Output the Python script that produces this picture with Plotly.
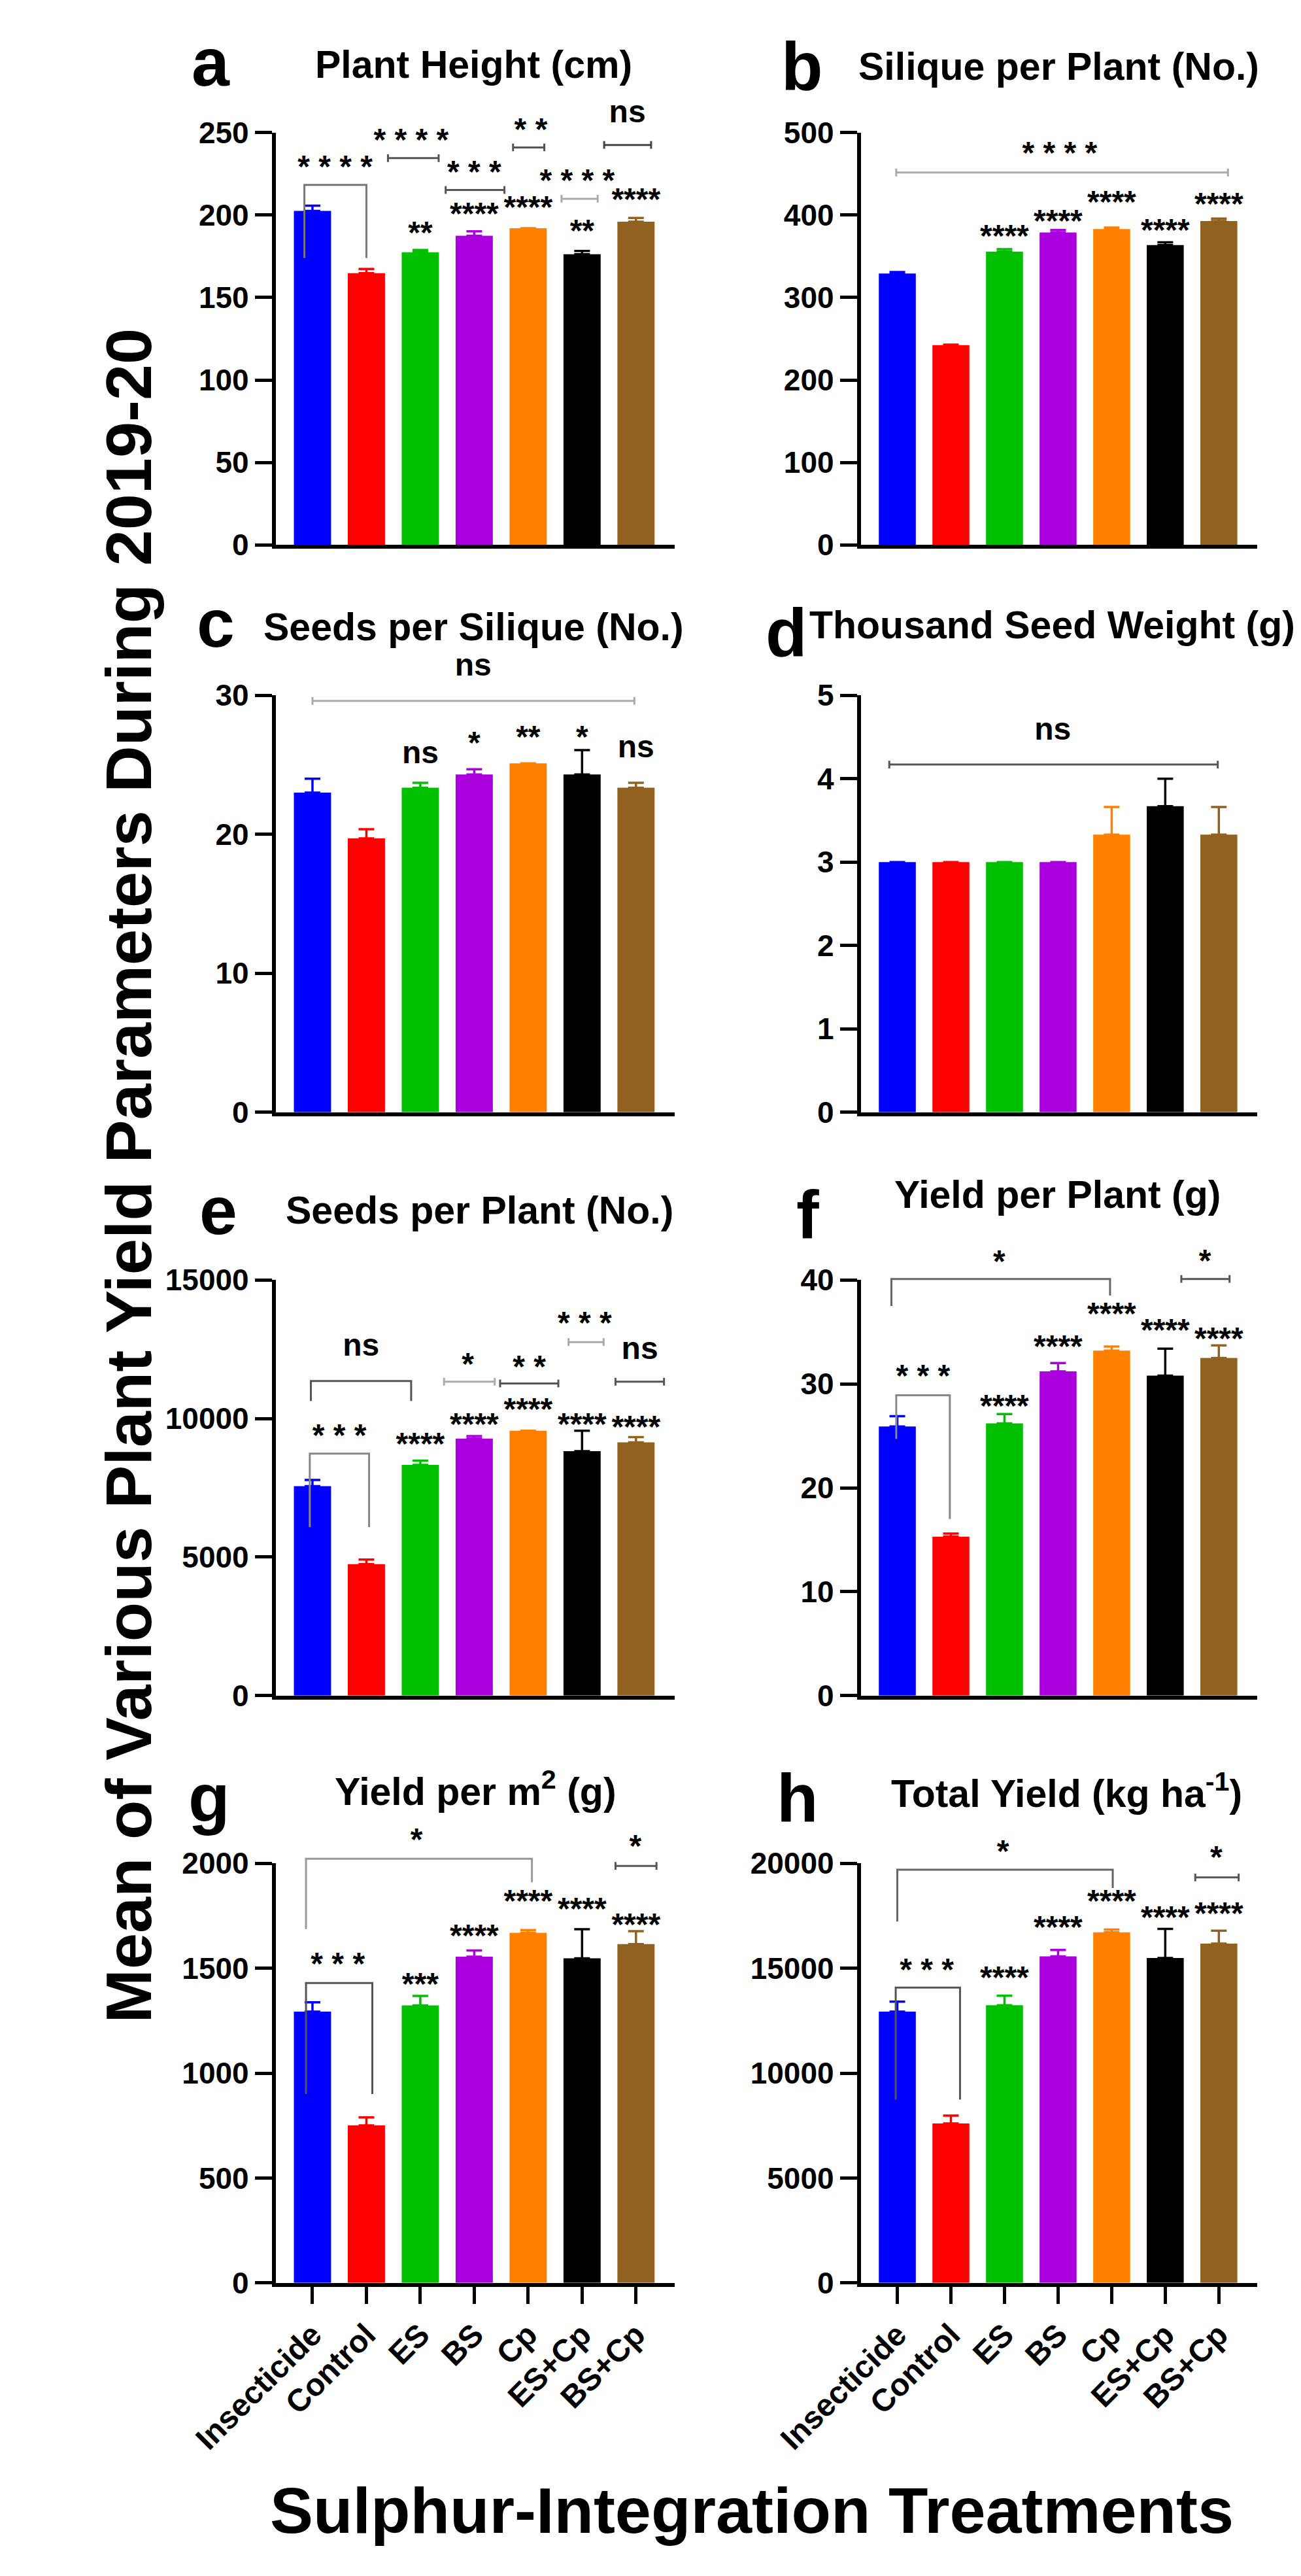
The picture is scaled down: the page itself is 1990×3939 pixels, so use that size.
import plotly.graph_objects as go

W, H = 1990, 3939
FONT = "Liberation Sans, Arial, sans-serif"

treatments = ["Insecticide", "Control", "ES", "BS", "Cp", "ES+Cp", "BS+Cp"]
bar_colors = ["#0000ff", "#ff0000", "#00c000", "#aa00dd", "#ff8000", "#000000", "#916120"]

# (a) plant height
height_mean = [202.5, 164.8, 177.4, 187.5, 192.0, 176.3, 196.0]
height_se = [3.2, 2.5, 1.4, 2.6, 0.0, 1.9, 2.3]
height_stars = ["", "", "**", "****", "****", "**", "****"]
height_star_y = [None, None, 192.0, 203.6, 207.4, 193.1, 212.0]
# bracket = (from, to, level, left leg end, right leg end, label, label x, label y, line colour)
height_brackets = [
    (-0.15, 1.0, 218.3, 174, 174, "* * * *", 0.42, 232.0, "#777777"),
    (1.40, 2.34, 234.5, None, None, "* * * *", 1.83, 248.4, "#555555"),
    (2.47, 3.56, 215.2, None, None, "* * *", 3.0, 228.8, "#555555"),
    (3.72, 4.30, 241.0, None, None, "* *", 4.05, 254.7, "#555555"),
    (4.62, 5.29, 209.9, None, None, "* * * *", 4.91, 223.6, "#aaaaaa"),
    (5.41, 6.28, 242.5, None, None, "ns", 5.84, 259.3, "#444444"),
]

# (b) silique per plant
silique_mean = [329.2, 242.3, 355.6, 378.9, 383.1, 363.6, 392.8]
silique_se = [1.7, 0.5, 3.0, 3.0, 1.7, 3.4, 3.0]
silique_stars = ["", "", "****", "****", "****", "****", "****"]
silique_star_y = [None, None, 379.7, 397.9, 421.0, 387.3, 419.0]
silique_brackets = [
    (-0.02, 6.17, 451.6, None, None, "* * * *", 3.03, 481.0, "#aaaaaa"),
]

# (c) seeds per silique
seeds_sil_mean = [23.0, 19.7, 23.35, 24.3, 25.1, 24.3, 23.35]
seeds_sil_se = [1.0, 0.66, 0.35, 0.38, 0.0, 1.76, 0.35]
seeds_sil_stars = ["", "", "ns", "*", "**", "*", "ns"]
seeds_sil_star_y = [None, None, 25.5, 26.9, 27.3, 27.3, 25.9]
seeds_sil_brackets = [
    (0.0, 5.97, 29.6, None, None, "ns", 2.98, 31.8, "#aaaaaa"),
]

# (d) thousand seed weight
tsw_mean = [3.0, 3.0, 3.0, 3.0, 3.33, 3.67, 3.33]
tsw_se = [0.0, 0.0, 0.0, 0.0, 0.33, 0.33, 0.33]
tsw_stars = ["", "", "", "", "", "", ""]
tsw_star_y = [None] * 7
tsw_brackets = [
    (-0.15, 5.98, 4.17, None, None, "ns", 2.9, 4.53, "#555555"),
]

# (e) seeds per plant
seeds_pl_mean = [7557, 4747, 8329, 9278, 9557, 8823, 9139]
seeds_pl_se = [228, 164, 152, 89, 0, 734, 190]
seeds_pl_stars = ["", "", "****", "****", "****", "****", "****"]
seeds_pl_star_y = [None, None, 9241, 9962, 10506, 9962, 9848]
seeds_pl_brackets = [
    (-0.05, 1.05, 8734, 6076, 6076, "* * *", 0.5, 9557, "#888888"),
    (-0.03, 1.83, 11354, 10633, 10633, "ns", 0.9, 12468, "#555555"),
    (2.44, 3.38, 11329, None, None, "*", 2.88, 12115, "#aaaaaa"),
    (3.48, 4.56, 11266, None, None, "* *", 4.02, 12025, "#555555"),
    (4.75, 5.40, 12760, None, None, "* * *", 5.05, 13608, "#aaaaaa"),
    (5.62, 6.52, 11329, None, None, "ns", 6.07, 12342, "#555555"),
]

# (f) yield per plant
ypp_mean = [25.9, 15.3, 26.2, 31.2, 33.2, 30.8, 32.5]
ypp_se = [1.0, 0.3, 0.9, 0.8, 0.4, 2.6, 1.2]
ypp_stars = ["", "", "****", "****", "****", "****", "****"]
ypp_star_y = [None, None, 28.3, 34.0, 37.2, 35.6, 34.8]
ypp_brackets = [
    (-0.02, 0.98, 28.9, 24.7, 17.0, "* * *", 0.48, 31.2, "#888888"),
    (-0.11, 3.97, 40.1, 37.5, 38.5, "*", 1.9, 42.2, "#666666"),
    (5.3, 6.2, 40.1, None, None, "*", 5.74, 42.3, "#555555"),
]

# (g) yield per m2
ym2_mean = [1293, 751, 1323, 1555, 1669, 1547, 1615]
ym2_se = [45, 38, 45, 30, 13, 139, 62]
ym2_stars = ["", "", "***", "****", "****", "****", "****"]
ym2_star_y = [None, None, 1444, 1676, 1843, 1804, 1729]
ym2_brackets = [
    (-0.12, 1.11, 1430, 900, 900, "* * *", 0.47, 1543, "#555555"),
    (-0.12, 4.07, 2022, 1687, 1910, "*", 1.93, 2134, "#999999"),
    (5.62, 6.38, 1988, None, None, "*", 5.99, 2105, "#555555"),
]

# (h) total yield
total_mean = [12936, 7601, 13238, 15571, 16711, 15487, 16175]
total_se = [470, 370, 453, 302, 135, 1392, 620]
total_stars = ["", "", "****", "****", "****", "****", "****"]
total_star_y = [None, None, 14782, 17165, 18406, 17651, 17819]
total_brackets = [
    (-0.03, 1.17, 14078, 8741, 8741, "* * *", 0.55, 15151, "#555555"),
    (0.0, 4.02, 19698, 17231, 18825, "*", 1.97, 20789, "#666666"),
    (5.56, 6.37, 19329, None, None, "*", 5.95, 20503, "#555555"),
]

panels = [
    ("a", "Plant Height (cm)", height_mean, height_se, height_stars, height_star_y, height_brackets, [0, 50, 100, 150, 200, 250]),
    ("b", "Silique per Plant (No.)", silique_mean, silique_se, silique_stars, silique_star_y, silique_brackets, [0, 100, 200, 300, 400, 500]),
    ("c", "Seeds per Silique (No.)", seeds_sil_mean, seeds_sil_se, seeds_sil_stars, seeds_sil_star_y, seeds_sil_brackets, [0, 10, 20, 30]),
    ("d", "Thousand Seed Weight (g)", tsw_mean, tsw_se, tsw_stars, tsw_star_y, tsw_brackets, [0, 1, 2, 3, 4, 5]),
    ("e", "Seeds per Plant (No.)", seeds_pl_mean, seeds_pl_se, seeds_pl_stars, seeds_pl_star_y, seeds_pl_brackets, [0, 5000, 10000, 15000]),
    ("f", "Yield per Plant (g)", ypp_mean, ypp_se, ypp_stars, ypp_star_y, ypp_brackets, [0, 10, 20, 30, 40]),
    ("g", "Yield per m<sup>2</sup> (g)", ym2_mean, ym2_se, ym2_stars, ym2_star_y, ym2_brackets, [0, 500, 1000, 1500, 2000]),
    ("h", "Total Yield (kg ha<sup>-1</sup>)", total_mean, total_se, total_stars, total_star_y, total_brackets, [0, 5000, 10000, 15000, 20000]),
]

# layout in pixels
col_px = [(301, 955), (1260, 1910)]
row_px = [(171, 810), (1043, 1689), (1949, 2593), (2853, 3503)]
letter_px = [(195, 100), (1164, 106), (203, 969), (1138, 983), (207, 1879), (1173, 1885), (192, 2789), (1156, 2789)]
title_px = [(625, 87), (1584, 90), (625, 959), (1574, 956), (635, 1863), (1582, 1838), (628, 2764), (1597, 2767)]
EXTRA = 160  # room above each panel for the significance labels
STAR_SIZE = 48


def px_x(p):
    return p / W


def px_y(p):
    return 1 - p / H


fig = go.Figure()
layout_axes = {}
annotations = []

for i, (letter, title, mean, se, stars, star_y, brackets, yticks) in enumerate(panels):
    r, c = divmod(i, 2)
    n = "" if i == 0 else str(i + 1)
    m = str(i + 9)
    xa, ya = "x" + n, "y" + n
    xs, ys = "x" + m, "y" + m
    bottom_row = r == 3
    x0p, x1p = col_px[c]
    y0p, y1p = row_px[r]
    ymax = yticks[-1]
    per_px = ymax / (y1p - y0p)

    for k in range(7):
        fig.add_trace(go.Bar(
            x=[k], y=[mean[k]], width=0.69, xaxis=xa, yaxis=ya,
            marker=dict(color=bar_colors[k], line=dict(width=0)),
            error_y=dict(type="data", symmetric=False, array=[se[k]], arrayminus=[0],
                         color=bar_colors[k], thickness=3.5, width=12),
            showlegend=False, hoverinfo="skip"))

    # brackets and labels go on an invisible twin subplot with the same scale but more headroom
    d = 6 * per_px
    lab_x, lab_y, lab_t = [], [], []

    def shift(t):
        # asterisks sit high in the line box, "ns" sits low
        return -11 * per_px if "*" in t else 4 * per_px

    for (bx0, bx1, lvl, l0, l1, lab, lx, ly, col) in brackets:
        if l0 is None:
            bx = [bx0, bx0, None, bx0, bx1, None, bx1, bx1]
            by = [lvl - d, lvl + d, None, lvl, lvl, None, lvl - d, lvl + d]
        else:
            bx = [bx0, bx0, bx1, bx1]
            by = [l0, lvl, lvl, l1]
        fig.add_trace(go.Scatter(x=bx, y=by, mode="lines", xaxis=xs, yaxis=ys,
                                 line=dict(color=col, width=3), cliponaxis=False,
                                 showlegend=False, hoverinfo="skip"))
        lab_x.append(lx)
        lab_y.append(ly + shift(lab))
        lab_t.append(lab)
    for k in range(7):
        if stars[k]:
            lab_x.append(k)
            lab_y.append(star_y[k] + shift(stars[k]))
            lab_t.append(stars[k])
    fig.add_trace(go.Scatter(
        x=lab_x, y=lab_y, text=lab_t, mode="text", textposition="middle center",
        textfont=dict(family=FONT, size=STAR_SIZE, color="black", weight="bold"),
        xaxis=xs, yaxis=ys, cliponaxis=False, showlegend=False, hoverinfo="skip"))

    layout_axes["xaxis" + n] = dict(
        domain=[px_x(x0p), px_x(x1p)], anchor=ya, range=[-0.68, 6.72],
        showline=True, linewidth=6, linecolor="black", showgrid=False, zeroline=False,
        tickvals=list(range(7)), ticktext=treatments, showticklabels=bottom_row,
        ticks="outside" if bottom_row else "", ticklen=26, tickwidth=5, tickcolor="black",
        tickangle=-45, tickfont=dict(family=FONT, size=48, color="black", weight="bold"))
    layout_axes["yaxis" + n] = dict(
        domain=[px_y(y1p), px_y(y0p)], anchor=xa, range=[0, ymax],
        showline=True, linewidth=6, linecolor="black", showgrid=False, zeroline=False,
        tickvals=yticks, tickformat="d", ticks="outside", ticklen=26, tickwidth=5,
        tickcolor="black",
        tickfont=dict(family=FONT, size=46, color="black", weight="bold"))
    layout_axes["xaxis" + m] = dict(
        domain=[px_x(x0p), px_x(x1p)], anchor=ys, range=[-0.68, 6.72], visible=False)
    layout_axes["yaxis" + m] = dict(
        domain=[px_y(y1p), px_y(y0p - EXTRA)], anchor=xs,
        range=[0, ymax * (y1p - y0p + EXTRA) / (y1p - y0p)], visible=False)

    lx, lb = letter_px[i]
    annotations.append(dict(text=letter, xref="paper", yref="paper", x=px_x(lx), y=px_y(lb + 23),
                            xanchor="center", yanchor="bottom", showarrow=False,
                            font=dict(family=FONT, size=104, color="black", weight="bold")))
    tx, tb = title_px[i]
    annotations.append(dict(text=title, xref="paper", yref="paper", x=px_x(tx), y=px_y(tb + 14),
                            xanchor="center", yanchor="bottom", showarrow=False,
                            font=dict(family=FONT, size=59, color="black", weight="bold")))

annotations.append(dict(text="Mean of Various Plant Yield Parameters During 2019-20",
                        xref="paper", yref="paper", x=px_x(59), y=px_y(1787), textangle=-90,
                        xanchor="center", yanchor="middle", showarrow=False,
                        font=dict(family=FONT, size=99, color="black", weight="bold")))
annotations.append(dict(text="Sulphur-Integration Treatments",
                        xref="paper", yref="paper", x=px_x(1081), y=px_y(3914),
                        xanchor="center", yanchor="bottom", showarrow=False,
                        font=dict(family=FONT, size=99, color="black", weight="bold")))

fig.update_layout(
    width=W, height=H, margin=dict(l=0, r=0, t=0, b=0),
    paper_bgcolor="white", plot_bgcolor="rgba(0,0,0,0)", barmode="overlay",
    font=dict(family=FONT, color="black"),
    annotations=annotations, **layout_axes)

fig.write_html("out.html")
